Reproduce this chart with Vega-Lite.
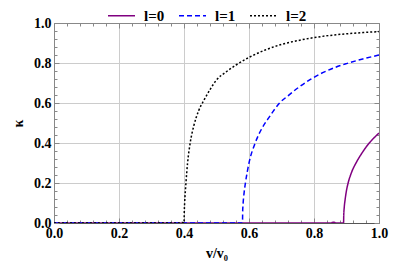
{
  "$schema": "https://vega.github.io/schema/vega-lite/v6.json",
  "width": 325,
  "height": 200,
  "autosize": "none",
  "padding": {"left": 54, "top": 23, "right": 24, "bottom": 41},
  "background": "white",
  "config": {
    "view": {"stroke": "#888888", "strokeWidth": 1},
    "font": "Liberation Serif"
  },
  "data": {"values": [
    {"l": "l=0", "v": 0, "k": 0}, {"l": "l=0", "v": 0.85, "k": 0}, {"l": "l=0", "v": 0.86, "k": 0.004}, {"l": "l=0", "v": 0.87, "k": 0},
    {"l": "l=0", "v": 0.891, "k": 0}, {"l": "l=0", "v": 0.8915, "k": 0.039}, {"l": "l=0", "v": 0.893, "k": 0.077}, {"l": "l=0", "v": 0.896, "k": 0.12},
    {"l": "l=0", "v": 0.9, "k": 0.163}, {"l": "l=0", "v": 0.905, "k": 0.2}, {"l": "l=0", "v": 0.916, "k": 0.255}, {"l": "l=0", "v": 0.932, "k": 0.308},
    {"l": "l=0", "v": 0.951, "k": 0.358}, {"l": "l=0", "v": 0.97, "k": 0.4}, {"l": "l=0", "v": 0.986, "k": 0.428}, {"l": "l=0", "v": 1.0, "k": 0.45},
    {"l": "l=1", "v": 0, "k": 0}, {"l": "l=1", "v": 0.58, "k": 0}, {"l": "l=1", "v": 0.5805, "k": 0.055}, {"l": "l=1", "v": 0.582, "k": 0.1},
    {"l": "l=1", "v": 0.585, "k": 0.152}, {"l": "l=1", "v": 0.589, "k": 0.2}, {"l": "l=1", "v": 0.6, "k": 0.3}, {"l": "l=1", "v": 0.619, "k": 0.4},
    {"l": "l=1", "v": 0.64, "k": 0.474}, {"l": "l=1", "v": 0.66, "k": 0.524}, {"l": "l=1", "v": 0.694, "k": 0.6}, {"l": "l=1", "v": 0.72, "k": 0.636},
    {"l": "l=1", "v": 0.75, "k": 0.675}, {"l": "l=1", "v": 0.789, "k": 0.718}, {"l": "l=1", "v": 0.82, "k": 0.746}, {"l": "l=1", "v": 0.865, "k": 0.778},
    {"l": "l=1", "v": 0.9, "k": 0.797}, {"l": "l=1", "v": 0.95, "k": 0.82}, {"l": "l=1", "v": 1.0, "k": 0.84},
    {"l": "l=2", "v": 0, "k": 0}, {"l": "l=2", "v": 0.39, "k": 0}, {"l": "l=2", "v": 0.395, "k": 0.003}, {"l": "l=2", "v": 0.4, "k": 0},
    {"l": "l=2", "v": 0.401, "k": 0.063}, {"l": "l=2", "v": 0.402, "k": 0.1}, {"l": "l=2", "v": 0.406, "k": 0.2}, {"l": "l=2", "v": 0.411, "k": 0.3},
    {"l": "l=2", "v": 0.419, "k": 0.4}, {"l": "l=2", "v": 0.43, "k": 0.485}, {"l": "l=2", "v": 0.445, "k": 0.561}, {"l": "l=2", "v": 0.46, "k": 0.61},
    {"l": "l=2", "v": 0.48, "k": 0.667}, {"l": "l=2", "v": 0.5, "k": 0.715}, {"l": "l=2", "v": 0.53, "k": 0.756}, {"l": "l=2", "v": 0.56, "k": 0.79},
    {"l": "l=2", "v": 0.6, "k": 0.828}, {"l": "l=2", "v": 0.65, "k": 0.865}, {"l": "l=2", "v": 0.7, "k": 0.893}, {"l": "l=2", "v": 0.75, "k": 0.912},
    {"l": "l=2", "v": 0.8, "k": 0.927}, {"l": "l=2", "v": 0.85, "k": 0.938}, {"l": "l=2", "v": 0.9, "k": 0.946}, {"l": "l=2", "v": 0.95, "k": 0.952},
    {"l": "l=2", "v": 1.0, "k": 0.957}
  ]},
  "resolve": {"axis": {"x": "independent", "y": "independent"}},
  "layer": [
    {
      "mark": {"type": "line", "strokeWidth": 1.5, "clip": true, "interpolate": "monotone"},
      "encoding": {
        "x": {"field": "v", "type": "quantitative", "scale": {"domain": [0, 1], "nice": false},
          "axis": {"orient": "bottom", "title": "v/v₀",
            "values": [0,0.04,0.08,0.12,0.16,0.2,0.24,0.28,0.32,0.36,0.4,0.44,0.48,0.52,0.56,0.6,0.64,0.68,0.72,0.76,0.8,0.84,0.88,0.92,0.96,1.0],
            "labelExpr": "abs(datum.value*5-round(datum.value*5))<0.001 ? format(datum.value,'.1f') : ''",
            "labelFont": "Liberation Serif", "labelFontWeight": "bold", "labelFontSize": 14, "labelColor": "black",
            "labelPadding": 8, "labelFlush": false, "labelOverlap": false,
            "tickSize": {"condition": {"test": "abs(datum.value*5-round(datum.value*5))<0.001", "value": -5}, "value": -3},
            "tickColor": "#888888",
            "grid": true, "gridColor": "#cccccc",
            "gridOpacity": {"condition": {"test": "abs(datum.value*5-round(datum.value*5))<0.001", "value": 1}, "value": 0},
            "domainColor": "#555555",
            "titleFont": "Liberation Serif", "titleFontWeight": "bold", "titleFontSize": 14, "titleColor": "black", "titlePadding": 4}},
        "y": {"field": "k", "type": "quantitative", "scale": {"domain": [0, 1], "nice": false},
          "axis": {"orient": "left", "title": "κ",
            "values": [0,0.04,0.08,0.12,0.16,0.2,0.24,0.28,0.32,0.36,0.4,0.44,0.48,0.52,0.56,0.6,0.64,0.68,0.72,0.76,0.8,0.84,0.88,0.92,0.96,1.0],
            "labelExpr": "abs(datum.value*5-round(datum.value*5))<0.001 ? format(datum.value,'.1f') : ''",
            "labelFont": "Liberation Serif", "labelFontWeight": "bold", "labelFontSize": 14, "labelColor": "black",
            "labelPadding": 8, "labelFlush": false, "labelOverlap": false,
            "tickSize": {"condition": {"test": "abs(datum.value*5-round(datum.value*5))<0.001", "value": -5}, "value": -3},
            "tickColor": "#888888",
            "grid": true, "gridColor": "#cccccc",
            "gridOpacity": {"condition": {"test": "abs(datum.value*5-round(datum.value*5))<0.001", "value": 1}, "value": 0},
            "domainColor": "#888888",
            "titleFont": "Liberation Serif", "titleFontWeight": "bold", "titleFontSize": 14, "titleColor": "black", "titlePadding": 8}},
        "color": {"field": "l", "type": "nominal",
          "scale": {"domain": ["l=0", "l=1", "l=2"], "range": ["#800080", "#0000ff", "#000000"]},
          "legend": {"orient": "none", "legendX": 53, "legendY": -22, "direction": "horizontal", "title": null,
            "symbolType": "stroke", "symbolSize": 729, "symbolStrokeWidth": 1.5,
            "labelFont": "Liberation Serif", "labelFontWeight": "bold", "labelFontSize": 15, "labelColor": "black",
            "labelOffset": 8, "columnPadding": 11}},
        "strokeDash": {"field": "l", "type": "nominal",
          "scale": {"domain": ["l=0", "l=1", "l=2"], "range": [[1, 0], [5, 3], [2, 2]]},
          "legend": {"orient": "none", "legendX": 53, "legendY": -22, "direction": "horizontal", "title": null,
            "symbolType": "stroke", "symbolSize": 729, "symbolStrokeWidth": 1.5,
            "labelFont": "Liberation Serif", "labelFontWeight": "bold", "labelFontSize": 15, "labelColor": "black",
            "labelOffset": 8, "columnPadding": 11}}
      }
    },
    {
      "mark": {"type": "line", "opacity": 0},
      "encoding": {
        "x": {"field": "v", "type": "quantitative", "scale": {"domain": [0, 1], "nice": false},
          "axis": {"orient": "top", "title": null, "labels": false, "grid": false,
            "values": [0,0.04,0.08,0.12,0.16,0.2,0.24,0.28,0.32,0.36,0.4,0.44,0.48,0.52,0.56,0.6,0.64,0.68,0.72,0.76,0.8,0.84,0.88,0.92,0.96,1.0],
            "tickSize": {"condition": {"test": "abs(datum.value*5-round(datum.value*5))<0.001", "value": -5}, "value": -3},
            "tickColor": "#888888", "domainColor": "#888888"}},
        "y": {"field": "k", "type": "quantitative", "scale": {"domain": [0, 1], "nice": false},
          "axis": {"orient": "right", "title": null, "labels": false, "grid": false,
            "values": [0,0.04,0.08,0.12,0.16,0.2,0.24,0.28,0.32,0.36,0.4,0.44,0.48,0.52,0.56,0.6,0.64,0.68,0.72,0.76,0.8,0.84,0.88,0.92,0.96,1.0],
            "tickSize": {"condition": {"test": "abs(datum.value*5-round(datum.value*5))<0.001", "value": -5}, "value": -3},
            "tickColor": "#888888", "domainColor": "#888888"}},
        "detail": {"field": "l"}
      }
    }
  ]
}
